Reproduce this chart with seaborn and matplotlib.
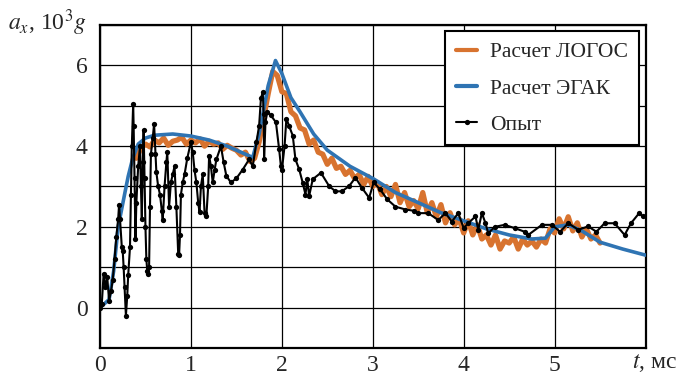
import numpy as np
import pandas as pd
import matplotlib
matplotlib.use("Agg")
import matplotlib.pyplot as plt
import seaborn as sns
from matplotlib.ticker import MultipleLocator

# ---------------- data ----------------
egak_t = [0, 0.1, 0.15, 0.2, 0.27, 0.31, 0.36, 0.42, 0.5, 0.6, 0.8, 1.0, 1.2, 1.4, 1.6,
          1.68, 1.75, 1.85, 1.93, 2.0, 2.1, 2.2, 2.35, 2.5, 2.75, 3.0, 3.25, 3.5, 3.75,
          4.0, 4.25, 4.5, 4.75, 4.9, 5.0, 5.15, 5.3, 5.5, 5.75, 6.0]
egak_y = [0, 0.2, 0.9, 2.0, 2.8, 3.25, 3.7, 4.05, 4.2, 4.27, 4.3, 4.25, 4.15, 4.0, 3.8,
          3.72, 4.3, 5.5, 6.12, 5.8, 5.2, 4.85, 4.3, 3.9, 3.5, 3.2, 2.85, 2.6, 2.35,
          2.15, 1.95, 1.8, 1.7, 1.72, 2.0, 2.05, 1.9, 1.62, 1.45, 1.3]

logos_t = [0.40, 0.45, 0.50, 0.55, 0.60, 0.65, 0.70, 0.75, 0.80, 0.85, 0.90, 0.95,
           1.00, 1.05, 1.10, 1.15, 1.20, 1.25, 1.30, 1.35, 1.40, 1.45, 1.50, 1.55,
           1.60, 1.65, 1.70, 1.75, 1.80, 1.85, 1.90, 1.95, 2.00, 2.05, 2.10, 2.15,
           2.20, 2.25, 2.30, 2.35, 2.40, 2.45, 2.50, 2.55, 2.60, 2.65, 2.70, 2.75,
           2.80, 2.85, 2.90, 2.95, 3.00, 3.05, 3.10, 3.15, 3.20, 3.25, 3.30, 3.35,
           3.40, 3.45, 3.50, 3.55, 3.60, 3.65, 3.70, 3.75, 3.80, 3.85, 3.90, 3.95,
           4.00, 4.05, 4.10, 4.15, 4.20, 4.25, 4.30, 4.35, 4.40, 4.45, 4.50, 4.55,
           4.60, 4.65, 4.70, 4.75, 4.80, 4.85, 4.90, 4.95, 5.00, 5.05, 5.10, 5.15,
           5.20, 5.25, 5.30, 5.35, 5.40, 5.45, 5.50]
logos_y = [3.70, 3.95, 4.05, 3.98, 4.15, 4.08, 4.20, 4.02, 4.12, 4.15, 4.22, 4.05,
           4.15, 4.08, 4.18, 4.00, 4.12, 4.05, 4.08, 3.92, 4.02, 3.95, 3.90, 3.78,
           3.85, 3.62, 3.70, 4.10, 4.70, 5.30, 5.85, 5.75, 5.35, 5.30, 4.85, 4.75,
           4.45, 4.40, 4.05, 4.15, 3.85, 3.80, 3.55, 3.70, 3.45, 3.50, 3.30, 3.40,
           3.20, 3.30, 3.05, 3.25, 3.00, 3.10, 2.80, 3.00, 2.75, 3.05, 2.60, 2.85,
           2.50, 2.65, 2.45, 2.85, 2.35, 2.60, 2.25, 2.55, 2.10, 2.35, 2.05, 2.20,
           1.85, 2.15, 1.80, 2.05, 1.70, 1.80, 1.55, 1.80, 1.45, 1.65, 1.60, 1.75,
           1.45, 1.70, 1.55, 1.65, 1.50, 1.70, 1.60, 1.95, 1.85, 2.20, 1.95, 2.25,
           1.90, 2.10, 1.75, 1.95, 1.70, 1.80, 1.60]

exp_t = [0.00, 0.02, 0.04, 0.06, 0.08, 0.10, 0.12, 0.14, 0.16, 0.18, 0.20, 0.21, 0.22,
         0.24, 0.25, 0.26, 0.27, 0.285, 0.30, 0.31, 0.33, 0.34, 0.35, 0.365, 0.37,
         0.38, 0.39, 0.40, 0.42, 0.44, 0.45, 0.46, 0.47, 0.48, 0.49, 0.50, 0.51, 0.52,
         0.53, 0.54, 0.55, 0.56, 0.58, 0.595, 0.61, 0.62, 0.64, 0.66, 0.68, 0.69, 0.71,
         0.73, 0.74, 0.76, 0.78, 0.80, 0.82, 0.84, 0.86, 0.87, 0.88, 0.89, 0.91, 0.93,
         0.96, 1.00, 1.02, 1.04, 1.06, 1.08, 1.095, 1.11, 1.13, 1.15, 1.17, 1.19, 1.20,
         1.22, 1.24, 1.26, 1.28, 1.33, 1.36, 1.39, 1.44, 1.50, 1.57, 1.64, 1.68, 1.72,
         1.75, 1.77, 1.79, 1.80, 1.805, 1.82, 1.84, 1.88, 1.935, 1.97, 1.99, 2.00, 2.03,
         2.05, 2.08, 2.12, 2.15, 2.19, 2.23, 2.26, 2.28, 2.30, 2.34, 2.43, 2.52, 2.59,
         2.66, 2.74, 2.81, 2.88, 2.96, 3.01, 3.08, 3.16, 3.25, 3.36, 3.45, 3.50, 3.61,
         3.72, 3.80, 3.87, 3.94, 4.00, 4.05, 4.13, 4.16, 4.20, 4.24, 4.27, 4.34, 4.45,
         4.56, 4.67, 4.71, 4.86, 4.97, 5.06, 5.15, 5.26, 5.37, 5.46, 5.55, 5.66, 5.77,
         5.84, 5.93, 5.97]
exp_y = [0.00, 0.10, 0.84, 0.50, 0.75, 0.17, 0.40, 0.68, 1.20, 1.76, 2.20, 2.55, 2.20,
         1.50, 1.40, 1.00, 0.50, -0.20, 0.30, 0.80, 1.50, 2.80, 4.00, 5.05, 4.50,
         3.20, 1.70, 2.60, 3.50, 4.00, 3.00, 2.20, 3.60, 4.40, 3.20, 2.00, 1.20, 0.90,
         0.84, 1.00, 2.50, 3.80, 4.20, 4.55, 3.80, 3.35, 3.00, 2.80, 2.40, 2.17, 3.00,
         3.60, 3.85, 2.50, 3.10, 3.30, 3.50, 2.50, 1.34, 1.30, 1.80, 2.80, 3.10, 3.30,
         3.70, 4.10, 3.85, 3.40, 3.10, 2.60, 2.36, 3.00, 3.30, 2.35, 2.27, 3.00, 3.76,
         3.50, 3.10, 3.40, 3.67, 4.00, 3.60, 3.26, 3.10, 3.20, 3.42, 3.67, 3.50, 4.09,
         4.50, 5.18, 5.34, 4.80, 3.67, 4.60, 4.84, 4.76, 4.59, 3.93, 3.50, 3.40, 4.00,
         4.68, 4.50, 4.26, 3.67, 3.43, 3.09, 2.80, 3.18, 2.76, 3.18, 3.34, 3.01, 2.88,
         2.88, 3.01, 3.22, 2.97, 2.72, 3.10, 2.93, 2.68, 2.50, 2.43, 2.40, 2.34, 2.34,
         2.17, 2.34, 2.13, 2.34, 1.97, 2.09, 2.26, 1.93, 2.34, 2.09, 1.84, 2.00, 2.05,
         1.97, 1.88, 1.80, 2.05, 2.05, 1.88, 2.09, 1.93, 2.01, 1.88, 2.09, 2.09, 1.80,
         2.09, 2.34, 2.26]

x_ticks = [0, 1, 2, 3, 4, 5]
y_ticks = [0, 2, 4, 6]

ORANGE = "#d8732f"
BLUE = "#2f74b3"

# ---------------- style ----------------
sns.set_theme(style="white")
plt.rcParams["font.family"] = ["Liberation Serif", "DejaVu Serif"]
plt.rcParams["mathtext.fontset"] = "stix"

fig = plt.figure(figsize=(6.77, 3.76), dpi=100)
ax = fig.add_axes([0.1477, 0.0745, 0.8058, 0.859])

df_l = pd.DataFrame({"t": logos_t, "a": logos_y})
df_e = pd.DataFrame({"t": egak_t, "a": egak_y})
df_x = pd.DataFrame({"t": exp_t, "a": exp_y})

sns.lineplot(data=df_l, x="t", y="a", ax=ax, color=ORANGE, lw=3.8,
             estimator=None, sort=False, label="Расчет ЛОГОС", zorder=3)
sns.lineplot(data=df_e, x="t", y="a", ax=ax, color=BLUE, lw=2.6,
             estimator=None, sort=False, label="Расчет ЭГАК", zorder=4)
sns.lineplot(data=df_x, x="t", y="a", ax=ax, color="black", lw=1.5,
             marker="o", markersize=3.8, markeredgewidth=0,
             estimator=None, sort=False, label="Опыт", zorder=5)

ax.set_xlim(0, 6)
ax.set_ylim(-1, 7)
ax.set_xticks(x_ticks)
ax.set_yticks(y_ticks)
ax.xaxis.set_minor_locator(MultipleLocator(1))
ax.yaxis.set_minor_locator(MultipleLocator(1))
ax.grid(True, which="both", color="black", lw=0.9)
ax.tick_params(axis="both", which="both", length=0, labelsize=17)
ax.tick_params(axis="x", pad=5)
ax.tick_params(axis="y", pad=9)
ax.set_xlabel("")
ax.set_ylabel("")
for s in ax.spines.values():
    s.set_color("black")
    s.set_linewidth(1.6)

leg = ax.legend(loc="upper right", fontsize=15.5, frameon=True, fancybox=False,
                handlelength=1.0, handletextpad=0.6, borderaxespad=0.3,
                labelspacing=0.75, borderpad=0.5)
leg.get_frame().set_edgecolor("black")
leg.get_frame().set_linewidth(1.5)
leg.get_frame().set_alpha(1)
for h in leg.get_lines()[:2]:
    h.set_linewidth(3.0)

fig.text(0.012, 0.94, r"$a_x$, 10$^3$$g$", fontsize=17, ha="left", va="center")
fig.text(0.933, 0.035, r"$t$, мс", fontsize=17, ha="left", va="center")

fig.savefig("out.png", dpi=100)
